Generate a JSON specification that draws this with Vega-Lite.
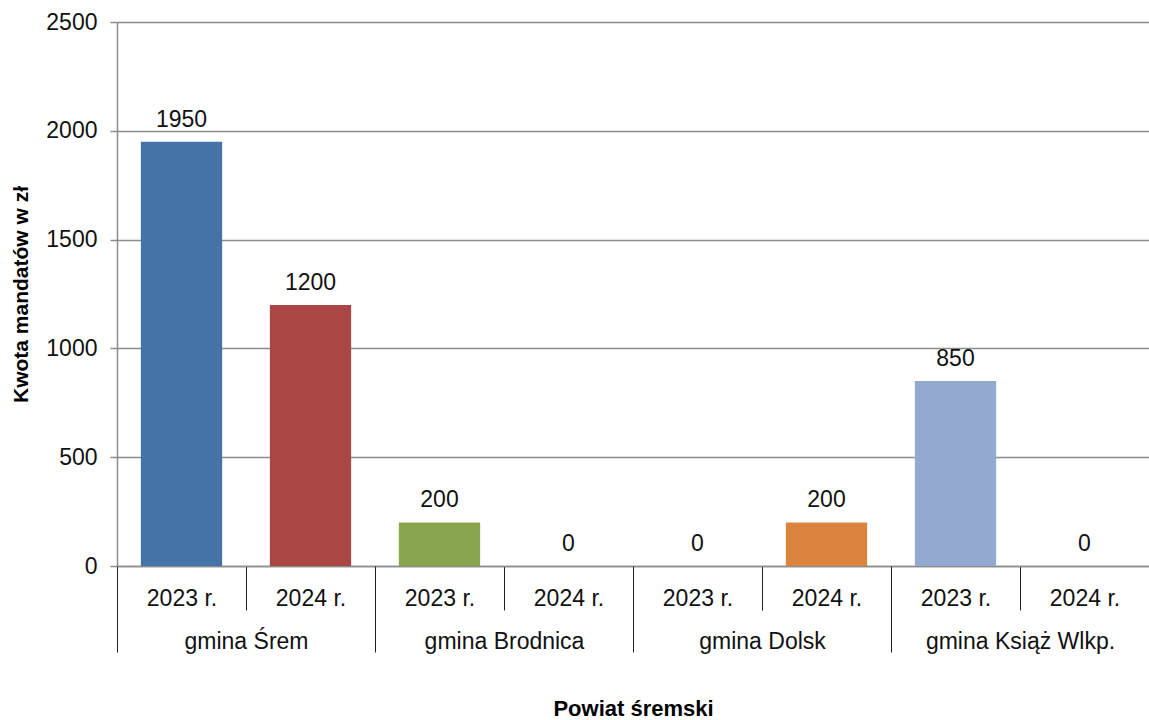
{
  "$schema": "https://vega.github.io/schema/vega-lite/v6.json",
  "autosize": "none",
  "width": 1032,
  "height": 544,
  "padding": {"left": 117, "top": 22, "right": 0, "bottom": 154},
  "config": {"view": {"stroke": null}, "font": "Liberation Sans"},
  "data": {
    "values": [
      {"slot": "2023 r. gmina Śrem", "gmina": "gmina Śrem", "rok": "2023 r.", "kwota": 1950},
      {"slot": "2024 r. gmina Śrem", "gmina": "gmina Śrem", "rok": "2024 r.", "kwota": 1200},
      {"slot": "2023 r. gmina Brodnica", "gmina": "gmina Brodnica", "rok": "2023 r.", "kwota": 200},
      {"slot": "2024 r. gmina Brodnica", "gmina": "gmina Brodnica", "rok": "2024 r.", "kwota": 0},
      {"slot": "2023 r. gmina Dolsk", "gmina": "gmina Dolsk", "rok": "2023 r.", "kwota": 0},
      {"slot": "2024 r. gmina Dolsk", "gmina": "gmina Dolsk", "rok": "2024 r.", "kwota": 200},
      {"slot": "2023 r. gmina Książ Wlkp.", "gmina": "gmina Książ Wlkp.", "rok": "2023 r.", "kwota": 850},
      {"slot": "2024 r. gmina Książ Wlkp.", "gmina": "gmina Książ Wlkp.", "rok": "2024 r.", "kwota": 0}
    ]
  },
  "encoding": {
    "y": {
      "field": "kwota",
      "type": "quantitative",
      "scale": {"domain": [0, 2500], "nice": false},
      "axis": {
        "values": [0, 500, 1000, 1500, 2000, 2500],
        "format": "d",
        "title": "Kwota mandatów w zł",
        "titleFontSize": 21,
        "titleFontWeight": "bold",
        "titleColor": "#000000",
        "titlePadding": 14,
        "labelFontSize": 23,
        "labelColor": "#111111",
        "labelPadding": 13,
        "tickSize": 7,
        "tickColor": "#8c8c8c",
        "tickWidth": 1.5,
        "domainColor": "#8c8c8c",
        "domainWidth": 1.5,
        "grid": true,
        "gridColor": "#8c8c8c",
        "gridWidth": 1.5
      }
    }
  },
  "layer": [
    {
      "mark": {"type": "bar", "width": {"band": 0.63}},
      "encoding": {
        "x": {
          "field": "slot",
          "type": "nominal",
          "sort": null,
          "scale": {"paddingInner": 0, "paddingOuter": 0},
          "axis": {
            "orient": "bottom",
            "title": null,
            "labelAngle": 0,
            "labelExpr": "substring(datum.label, 0, 7)",
            "labelFontSize": 23,
            "labelColor": "#111111",
            "labelPadding": -23,
            "tickBand": "extent",
            "tickSize": 44,
            "tickColor": "#222222",
            "tickWidth": 1,
            "domainColor": "#8c8c8c",
            "domainWidth": 1.5,
            "grid": false
          }
        },
        "color": {
          "field": "slot",
          "type": "nominal",
          "sort": null,
          "legend": null,
          "scale": {
            "domain": ["2023 r. gmina Śrem", "2024 r. gmina Śrem", "2023 r. gmina Brodnica", "2024 r. gmina Brodnica", "2023 r. gmina Dolsk", "2024 r. gmina Dolsk", "2023 r. gmina Książ Wlkp.", "2024 r. gmina Książ Wlkp."],
            "range": ["#4572A7", "#AA4643", "#89A54E", "#80699B", "#3D96AE", "#DB843D", "#93A9CF", "#B9CD96"]
          }
        }
      }
    },
    {
      "mark": {"type": "text", "baseline": "alphabetic", "dy": -15, "fontSize": 23, "color": "#111111"},
      "encoding": {
        "x": {"field": "slot", "type": "nominal", "sort": null, "scale": {"paddingInner": 0, "paddingOuter": 0}, "axis": null},
        "text": {"field": "kwota", "type": "quantitative"}
      }
    },
    {
      "mark": {"type": "text", "opacity": 0},
      "encoding": {
        "x": {
          "field": "gmina",
          "type": "nominal",
          "sort": null,
          "scale": {"paddingInner": 0, "paddingOuter": 0},
          "axis": {
            "orient": "bottom",
            "title": "Powiat śremski",
            "titleFontSize": 22,
            "titleFontWeight": "bold",
            "titleColor": "#000000",
            "titlePadding": 45,
            "labelAngle": 0,
            "labelFontSize": 23,
            "labelColor": "#111111",
            "labelPadding": -22,
            "labelLimit": 0,
            "tickBand": "extent",
            "tickSize": 86,
            "tickColor": "#222222",
            "tickWidth": 1,
            "domain": false,
            "grid": false
          }
        },
        "text": {"field": "gmina", "type": "nominal"}
      }
    }
  ],
  "resolve": {"scale": {"x": "independent"}, "axis": {"x": "independent"}}
}
